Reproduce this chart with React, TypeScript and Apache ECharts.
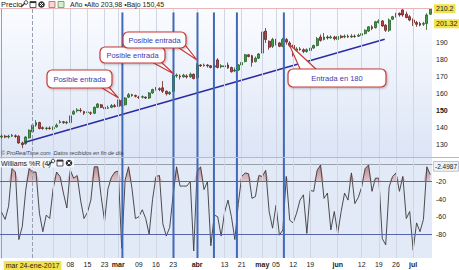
import React, { useEffect, useRef } from "react";
import * as echarts from "echarts";

// ---- trading days (2017) ----
const janDays = [10, 11, 12, 13, 17, 18, 19, 20, 23, 24, 25, 26, 27, 30, 31];
const febDays = [1, 2, 3, 6, 7, 8, 9, 10, 13, 14, 15, 16, 17, 21, 22, 23, 24, 27, 28];
const marDays = [1, 2, 3, 6, 7, 8, 9, 10, 13, 14, 15, 16, 17, 20, 21, 22, 23, 24, 27, 28, 29, 30, 31];
const aprDays = [3, 4, 5, 6, 7, 10, 11, 12, 13, 17, 18, 19, 20, 21, 24, 25, 26, 27, 28];
const mayDays = [1, 2, 3, 4, 5, 8, 9, 10, 11, 12, 15, 16, 17, 18, 19, 22, 23, 24, 25, 26, 30, 31];
const junDays = [1, 2, 5, 6, 7, 8, 9, 12, 13, 14, 15, 16, 19, 20, 21, 22, 23, 26, 27, 28, 29, 30];
const julDays = [3, 5, 6, 7, 10, 11];

// ---- OHLC ----
const opens = [
  134.5, 135, 134.5, 135, 135.2, 135, 131, 130.5, 134, 137.5,
  141.5, 143, 140, 139.5, 139.8, 139.5, 140.5, 143, 143.5, 142.8,
  143, 148, 150, 150.3, 149.5, 149, 148.8, 148.5, 152, 153.5,
  152, 151.5, 152, 153, 152.5, 156, 153.5, 158, 159.5, 159,
  158, 158, 158, 157.5, 160.5, 162.5, 163, 163.5, 161.5, 160,
  161.5, 170.5, 170.5, 170, 170.5, 170, 171.5, 169.5, 177, 176.5,
  177, 176.5, 175.8, 180, 176, 176.5, 177, 175.5, 173.5, 174,
  177, 179, 183, 182.5, 179, 181, 184, 197, 191, 188,
  191.5, 190, 188, 192, 190, 188.5, 185.5, 186.5, 186, 185,
  185.5, 187, 188.5, 193.5, 192, 193.5, 193, 193.5, 192, 194,
  193.5, 194, 193.5, 194, 194, 194.5, 195.5, 197, 199.5, 199,
  202, 203, 200.5, 197.5, 204, 205.5, 207.5, 209.5, 207, 205.5,
  203.5, 202, 201.5, 201, 201.5, 207,
];
const closes = [
  135, 134.5, 135, 135.5, 134.8, 131, 130, 134.5, 138.5, 141.5,
  143, 139.5, 139.5, 139.8, 139.5, 140, 141.5, 143.5, 143, 143.2,
  147, 149.5, 150.5, 150, 148.5, 149.3, 148.5, 152, 154, 152,
  151.2, 151.8, 153, 152.5, 156.5, 153, 157.5, 159.5, 159, 158.5,
  157.8, 158.3, 157.5, 160.5, 162.5, 163.5, 162.5, 161.5, 160, 160.8,
  170.5, 171, 170, 171, 170, 171.5, 169, 177, 176.5, 177,
  176.5, 175.5, 176.5, 175.5, 176.5, 176, 175.2, 173, 174, 177,
  178.5, 183, 182, 178.5, 181, 183.5, 196.5, 192, 187.5, 192,
  189.5, 188, 192, 190.5, 188.5, 185, 186.5, 186, 185, 186,
  187, 188.5, 192.5, 191.5, 193.5, 193, 193.5, 192.5, 193.8, 193.2,
  194, 193.5, 194, 193.8, 194.5, 195.5, 197.5, 199.5, 198.5, 202.5,
  203, 200, 197.5, 203.5, 205.5, 207, 206.5, 206.5, 205, 203.5,
  202, 201, 200.5, 201.5, 206.5, 209.9,
];
const lows = [
  133.5, 133.8, 133.6, 134.5, 134, 130.5, 127.9, 130, 133.5, 137,
  140.5, 139, 138.8, 138.5, 138.8, 138.5, 140, 142.5, 142.3, 142,
  142.5, 147.5, 149, 149, 147.5, 148, 147.5, 148, 151.5, 151.5,
  150.5, 151, 151.5, 151.8, 152, 152.5, 153, 157.5, 158.3, 157.8,
  157, 157.3, 157, 157, 160, 161.8, 161.5, 160.5, 159, 159.3,
  161, 169.5, 168.5, 169.5, 169, 169.5, 168.5, 169, 175.8, 176,
  175.5, 175, 175.3, 175, 175, 175.5, 174.8, 172.5, 172.8, 173.5,
  176.5, 178.5, 181.5, 176, 178.5, 180.5, 183.5, 190, 186, 187,
  188.5, 187.5, 187.5, 189, 187.5, 182, 184.5, 185.5, 184, 184.2,
  184.5, 186.5, 188, 190.8, 191.5, 192, 192.5, 191.5, 191.5, 192.5,
  192.8, 193, 193, 193, 193.5, 193.8, 195, 196.5, 197.5, 198.5,
  201.5, 199.5, 196.5, 196.5, 203.5, 205, 205.5, 205.5, 204.5, 202.8,
  200, 199.5, 199.8, 200, 197.7, 206.5,
];
const highs = [
  136, 135.8, 135.8, 136.3, 136, 135.5, 131.8, 135, 139, 142,
  144.5, 143.5, 140.8, 140.5, 140.8, 140.8, 142.5, 144.5, 144, 144,
  147.5, 150.5, 151.5, 151.6, 150, 150, 149.5, 152.5, 154.5, 154,
  153, 153, 154, 154, 157.5, 156.5, 158, 160.5, 160, 159.5,
  158.8, 159, 158.5, 161, 163, 164, 163.8, 167.5, 162, 161.5,
  171.5, 172, 171.5, 171.8, 171.5, 172.5, 172, 178, 177.5, 177.8,
  177.5, 177, 177.2, 181, 177.5, 177.5, 178.5, 176, 175.5, 177.5,
  179.5, 183.5, 183.5, 183, 182, 184, 198, 198.8, 191.5, 193,
  192.5, 190.5, 193, 193, 191, 189, 187.5, 187.5, 186.8, 186.8,
  187.5, 189, 193.5, 195, 195.9, 194.5, 194.5, 194.2, 194.5, 194.8,
  195, 195, 195.2, 195, 195.5, 196.2, 198, 200, 200.5, 203,
  204, 203.5, 201, 204.5, 206, 207.8, 208, 209.9, 208.5, 206.5,
  204.5, 203, 202.5, 202.5, 207.5, 210.2,
];

// ---- Williams %R (4) ----
const williams = [
  -55, -63, -48, -5, -9, -86, -71, -30, -5, -9,
  -9, -56, -77, -58, -62, -28, -9, -14, -33, -50,
  -7, -16, -13, -41, -62, -55, -41, -3, -3, -37,
  -65, -28, -15, -9, -8, -96, -18, -3, -28, -62,
  -60, -52, -62, -80, -40, -14, -13, -68, -82, -72,
  -35, -3, -25, -25, -25, -20, -99, -8, -3, -29,
  -20, -93, -58, -60, -82, -55, -41, -60, -86, -45,
  -14, -10, -11, -39, -37, -13, -14, -7, -54, -73,
  -47, -81, -75, -14, -64, -67, -56, -41, -35, -79,
  -30, -31, -7, -1, -39, -33, -75, -54, -79, -54,
  -33, -41, -10, -45, -38, -26, -5, -1, -31, -16,
  -16, -85, -92, -26, -14, -10, -31, -14, -62, -54,
  -98, -67, -77, -63, -3, -12,
];

// ---- axis labels ----
const labelDates = [
  "2017-01-24", "2017-02-08", "2017-02-15", "2017-02-23", "2017-03-01", "2017-03-09",
  "2017-03-16", "2017-03-23", "2017-04-03", "2017-04-13", "2017-04-21", "2017-05-01",
  "2017-05-05", "2017-05-12", "2017-05-19", "2017-06-01", "2017-06-12", "2017-06-19",
  "2017-06-26", "2017-07-03",
];
const labelTexts = [
  "mar 24-ene-2017", "08", "15", "23", "mar", "09", "16", "23", "abr", "13", "21", "may",
  "05", "12", "19", "jun", "12", "19", "26", "jul",
];
const extraGridDates = ["2017-02-01"];
const crosshairDate = "2017-01-24";
const priceTicks = [130, 140, 150, 160, 170, 180, 190];
const wrTicks = [-20, -40, -60, -80];
const priceMarks = [210.2, 201.32];
const wrLevels = [-20, -80];
const wrLast = -2.4987;

// ---- annotations (in category-index / price coordinates) ----
const entryLines = [35.2, 50.1, 57.1, 61.9, 68.6, 82.3];
const trendLine = [[6.8, 131.4], [111.7, 192.2]];

const FONT = '"Liberation Sans", Arial, sans-serif';

function pad(n: number) {
  return n < 10 ? "0" + n : String(n);
}

export default function App() {
  const ref = useRef<HTMLDivElement>(null);

  useEffect(() => {
    if (!ref.current) return;
    const chart = echarts.init(ref.current, null, { renderer: "svg" });

    const months: [number, number[]][] = [
      [1, janDays], [2, febDays], [3, marDays], [4, aprDays], [5, mayDays], [6, junDays], [7, julDays],
    ];
    const dates: string[] = [];
    months.forEach(([m, days]) => days.forEach((d) => dates.push(`2017-${pad(m)}-${pad(d)}`)));

    const candles = opens.map((o, i) => [o, closes[i], lows[i], highs[i]]);
    const labelIdx = labelDates.map((d) => dates.indexOf(d));
    const crossIdx = dates.indexOf(crosshairDate);
    const gridIdx = labelIdx.concat(extraGridDates.map((d) => dates.indexOf(d))).filter((i) => i !== crossIdx);
    const n = dates.length;

    const wrBase = williams.map(() => -20);
    const wrExcess = williams.map((v) => Math.max(v + 20, 0));

    const gridLineData = () =>
      gridIdx
        .map((i) => ({ xAxis: i, lineStyle: { color: "#d0d6e3", width: 1, type: "solid" } }))
        .concat([{ xAxis: crossIdx, lineStyle: { color: "#98a0b0", width: 1, type: "dashed" } }]);

    const priceMin = 122.7;
    const priceMax = 211.8;
    const wrMin = -107;
    const wrMax = 7;

    const callout = (bx: number, by: number, bw: number, bh: number, text: string, tail: number[][]) => [
      {
        type: "polygon",
        shape: { points: tail },
        style: { fill: "#ffffff", stroke: "#c73a3a", lineWidth: 1.2 },
        z: 100,
      },
      {
        type: "rect",
        shape: { x: bx, y: by, width: bw, height: bh, r: 5 },
        style: {
          fill: "#ffffff",
          stroke: "#c73a3a",
          lineWidth: 1.2,
          shadowBlur: 2,
          shadowColor: "rgba(0,0,0,0.25)",
          shadowOffsetX: 1,
          shadowOffsetY: 1,
        },
        z: 101,
      },
      {
        type: "text",
        x: bx + bw / 2,
        y: by + bh / 2,
        style: { text, fill: "#3b3bb0", font: `7.5px ${FONT}`, align: "center", verticalAlign: "middle" },
        z: 102,
      },
    ];

    const iconWindow = (x: number, y: number) => [
      { type: "rect", shape: { x, y, width: 6, height: 6 }, style: { fill: "#ffffff", stroke: "#333", lineWidth: 0.8 }, z: 110 },
      { type: "rect", shape: { x, y, width: 6, height: 1.6 }, style: { fill: "#333" }, z: 111 },
    ];
    const iconClose = (cx: number, cy: number) => [
      { type: "circle", shape: { cx, cy, r: 3.3 }, style: { fill: "#333" }, z: 110 },
      { type: "line", shape: { x1: cx - 1.5, y1: cy - 1.5, x2: cx + 1.5, y2: cy + 1.5 }, style: { stroke: "#fff", lineWidth: 1 }, z: 111 },
      { type: "line", shape: { x1: cx + 1.5, y1: cy - 1.5, x2: cx - 1.5, y2: cy + 1.5 }, style: { stroke: "#fff", lineWidth: 1 }, z: 111 },
    ];
    const iconWrench = (x: number, y: number) => [
      { type: "line", shape: { x1: x, y1: y + 6, x2: x + 4, y2: y + 2 }, style: { stroke: "#333", lineWidth: 1.2 }, z: 110 },
      { type: "circle", shape: { cx: x + 5, cy: y + 1.5, r: 1.8 }, style: { fill: "none", stroke: "#333", lineWidth: 0.9 }, z: 110 },
    ];

    const option = {
      animation: false,
      backgroundColor: "#ffffff",
      textStyle: { fontFamily: FONT },
      grid: [
        {
          left: 0, right: 27, top: 6, height: 151, show: true, borderWidth: 0,
          backgroundColor: new echarts.graphic.LinearGradient(0, 0, 0, 1, [
            { offset: 0, color: "#fbfcff" },
            { offset: 1, color: "#dce5f6" },
          ]),
        },
        { left: 0, right: 27, top: 158, height: 100, show: true, borderWidth: 0, backgroundColor: "#e2e9f7" },
      ],
      xAxis: [
        {
          type: "category", gridIndex: 0, data: dates, boundaryGap: true,
          axisLine: { show: false }, axisTick: { show: false }, axisLabel: { show: false }, splitLine: { show: false },
        },
        {
          type: "category", gridIndex: 1, data: dates, boundaryGap: true,
          axisLine: { show: true, lineStyle: { color: "#9aa0aa" } },
          axisTick: { show: false },
          splitLine: { show: false },
          axisLabel: {
            interval: (index: number) => labelIdx.includes(index),
            margin: 3,
            fontSize: 7,
            color: "#222",
            fontFamily: FONT,
            formatter: (_v: string, index: number) => {
              const k = labelIdx.indexOf(index);
              if (k < 0) return "";
              const t = labelTexts[k];
              if (index === crossIdx) return `{hl|${t}}`;
              if (isNaN(parseInt(t, 10))) return `{m|${t}}`;
              return t;
            },
            rich: {
              hl: { backgroundColor: "#f1e34b", color: "#222", fontSize: 7, padding: [1, 2, 1, 2], fontFamily: FONT },
              m: { fontWeight: "bold", color: "#222", fontSize: 7, fontFamily: FONT },
            },
          },
        },
        { type: "value", gridIndex: 0, min: -0.5, max: n - 0.5, show: false },
        { type: "value", gridIndex: 1, min: -0.5, max: n - 0.5, show: false },
      ],
      yAxis: [
        {
          type: "value", gridIndex: 0, position: "right", min: priceMin, max: priceMax, splitNumber: 9,
          axisLine: { show: true, lineStyle: { color: "#9aa0aa" } },
          axisTick: { show: false },
          splitLine: { show: false },
          axisLabel: {
            showMinLabel: false, showMaxLabel: false, margin: 4, fontSize: 7, color: "#222", fontFamily: FONT,
            formatter: (v: number) => (priceTicks.includes(v) ? (v === 150 ? `{b|${v}}` : String(v)) : ""),
            rich: { b: { fontWeight: "bold", fontSize: 7, color: "#111", fontFamily: FONT } },
          },
        },
        {
          type: "value", gridIndex: 1, position: "right", min: wrMin, max: wrMax, splitNumber: 6,
          axisLine: { show: true, lineStyle: { color: "#9aa0aa" } },
          axisTick: { show: false },
          splitLine: { show: false },
          axisLabel: {
            showMinLabel: false, showMaxLabel: false, margin: 4, fontSize: 7, color: "#222", fontFamily: FONT,
            formatter: (v: number) => (wrTicks.includes(v) ? String(v) : ""),
          },
        },
      ],
      series: [
        {
          type: "line", xAxisIndex: 0, yAxisIndex: 0, data: [], z: 1, silent: true,
          markLine: { symbol: "none", silent: true, label: { show: false }, data: gridLineData() },
        },
        {
          type: "line", xAxisIndex: 1, yAxisIndex: 1, data: [], z: 1, silent: true,
          markLine: { symbol: "none", silent: true, label: { show: false }, data: gridLineData() },
        },
        {
          type: "candlestick", xAxisIndex: 0, yAxisIndex: 0, data: candles, barWidth: 2.4, z: 3,
          itemStyle: { color: "#3f9e3f", color0: "#b24646", borderColor: "#245e24", borderColor0: "#6c2121", borderWidth: 0.8 },
          markLine: {
            symbol: "none", silent: true,
            data: [
              {
                yAxis: priceMarks[0],
                lineStyle: { color: "#e8b8b8", width: 1, type: "solid" },
                label: { show: true, position: "end", distance: 2, formatter: String(priceMarks[0]), backgroundColor: "#f1e34b", color: "#222", fontSize: 7, padding: [1, 2], fontFamily: FONT },
              },
              {
                yAxis: priceMarks[1],
                lineStyle: { color: "rgba(0,0,0,0)", width: 1 },
                label: { show: true, position: "end", distance: 2, formatter: String(priceMarks[1]), backgroundColor: "#f1e34b", color: "#222", fontSize: 7, padding: [1, 2], fontFamily: FONT },
              },
            ],
          },
        },
        {
          type: "line", xAxisIndex: 2, yAxisIndex: 0, data: trendLine, symbol: "none", z: 4, silent: true,
          lineStyle: { color: "#2b2ba3", width: 1.5 },
        },
        ...entryLines.map((x) => ({
          type: "line", xAxisIndex: 2, yAxisIndex: 0, data: [[x, 208.0], [x, priceMin]], symbol: "none", z: 5, silent: true,
          lineStyle: { color: "#4169b8", width: 2 },
        })),
        {
          type: "line", xAxisIndex: 1, yAxisIndex: 1, data: wrBase, stack: "wr", stackStrategy: "all", symbol: "none", z: 2, silent: true,
          lineStyle: { width: 0, opacity: 0 },
        },
        {
          type: "line", xAxisIndex: 1, yAxisIndex: 1, data: wrExcess, stack: "wr", stackStrategy: "all", symbol: "none", z: 2, silent: true,
          lineStyle: { width: 0, opacity: 0 },
          areaStyle: {
            color: new echarts.graphic.LinearGradient(0, 0, 0, 1, [
              { offset: 0, color: "rgba(160,60,60,0.9)" },
              { offset: 1, color: "rgba(215,150,150,0.6)" },
            ]),
          },
        },
        {
          type: "line", xAxisIndex: 1, yAxisIndex: 1, data: williams, symbol: "none", z: 3, silent: true,
          lineStyle: { color: "#3a3a3a", width: 0.9 },
          markLine: {
            symbol: "none", silent: true,
            data: [
              ...wrLevels.map((v) => ({ yAxis: v, lineStyle: { color: "#5865ab", width: 1, type: "solid" }, label: { show: false } })),
              {
                yAxis: wrLast,
                lineStyle: { color: "rgba(0,0,0,0)", width: 1 },
                label: {
                  show: true, position: "end", distance: 2, formatter: String(wrLast), backgroundColor: "#edf1f8",
                  borderColor: "#9aa3b5", borderWidth: 0.6, color: "#222", fontSize: 6.5, padding: [1, 1], fontFamily: FONT,
                },
              },
            ],
          },
        },
        ...entryLines.map((x) => ({
          type: "line", xAxisIndex: 3, yAxisIndex: 1, data: [[x, wrMax], [x, wrMin]], symbol: "none", z: 5, silent: true,
          lineStyle: { color: "#4169b8", width: 2 },
        })),
      ],
      graphic: [
        // header band of price panel
        { type: "rect", shape: { x: 0, y: 0, width: 432, height: 8 }, style: { fill: "#ffffff" }, z: 105 },
        { type: "text", x: 1, y: 4.5, style: { text: "Precio", fill: "#222", font: `7.5px ${FONT}`, verticalAlign: "middle" }, z: 110 },
        ...iconWrench(21, 1),
        ...iconWindow(30, 1.5),
        ...iconClose(41.5, 4.5),
        { type: "rect", shape: { x: 49, y: 1.5, width: 6, height: 6 }, style: { fill: "#f6d6d6", stroke: "#c45a5a", lineWidth: 0.8 }, z: 110 },
        { type: "rect", shape: { x: 58, y: 1.5, width: 6, height: 6 }, style: { fill: "#d2efd2", stroke: "#4f9f4f", lineWidth: 0.8 }, z: 110 },
        { type: "text", x: 70, y: 4.5, style: { text: "Año •Alto 203,98 •Bajo 150,45", fill: "#222", font: `7px ${FONT}`, verticalAlign: "middle" }, z: 110 },
        { type: "text", x: 1, y: 152.5, style: { text: "© ProRealTime.com  Datos recibidos en fin de día", fill: "#444", font: `italic 5.5px ${FONT}`, verticalAlign: "middle" }, z: 110 },
        { type: "line", shape: { x1: 0, y1: 157.5, x2: 459, y2: 157.5 }, style: { stroke: "#b5bac4", lineWidth: 1 }, z: 109 },
        { type: "rect", shape: { x: 0, y: 158.5, width: 74, height: 9 }, style: { fill: "rgba(246,248,252,0.9)" }, z: 109 },
        { type: "text", x: 1, y: 163, style: { text: "Williams %R (4)", fill: "#222", font: `7px ${FONT}`, verticalAlign: "middle" }, z: 110 },
        ...iconWrench(48, 159.5),
        ...iconWindow(57, 160),
        ...iconClose(69, 163),
        ...callout(47, 70, 65, 18, "Posible entrada", [[99, 86], [108, 86], [118.5, 98]]),
        ...callout(100, 47, 65, 16, "Posible entrada", [[150, 61], [160, 61], [174, 74]]),
        ...callout(123, 32, 63, 16, "Posible entrada", [[176, 46], [185, 45], [197, 60]]),
        ...callout(288, 69, 98, 18, "Entrada en 180", [[301, 71], [318, 71], [289, 44]]),
      ],
    };

    chart.setOption(option as any);
    return () => chart.dispose();
  }, []);

  return <div ref={ref} style={{ position: "absolute", left: 0, top: 0, width: 459, height: 270 }} />;
}
